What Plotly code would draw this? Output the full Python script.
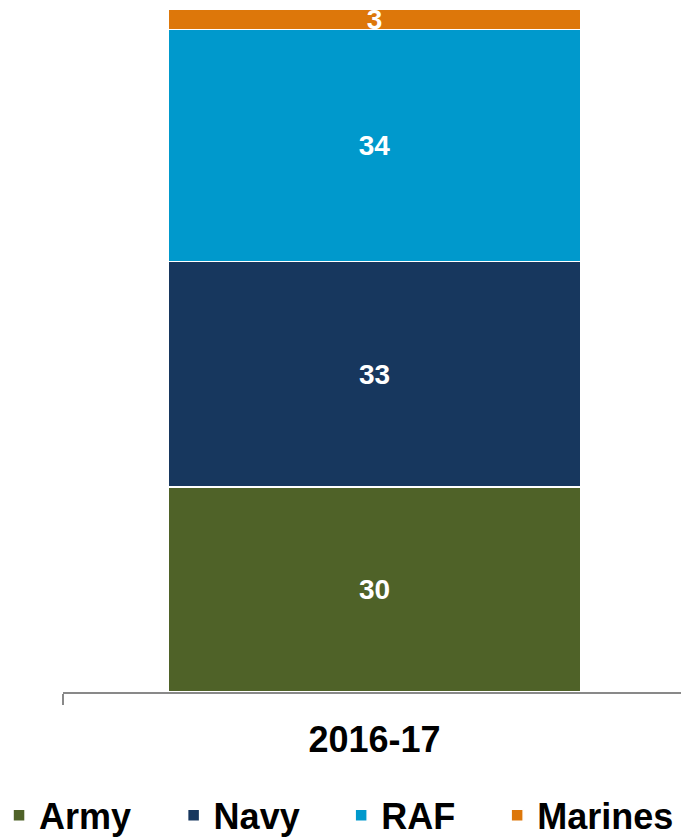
import plotly.graph_objects as go

# Share of personnel by service, 2016-17 (%)
years = ["2016-17"]
services = ["Army", "Navy", "RAF", "Marines"]
army = [30]
navy = [33]
raf = [34]
marines = [3]
colors = ["#4F6228", "#17375E", "#0099CC", "#DD770A"]

series = [army, navy, raf, marines]

FONT = "Liberation Sans, Arial, sans-serif"

# one legend box per service so the entries can be spaced freely along the bottom
legend_ids = ["legend", "legend2", "legend3", "legend4"]
legend_x = [-0.1035, 0.1790, 0.4501, 0.7025]

fig = go.Figure()
for name, vals, col, lid in zip(services, series, colors, legend_ids):
    fig.add_trace(go.Bar(
        name=name,
        x=years,
        y=vals,
        legend=lid,
        marker=dict(color=col, line=dict(color="white", width=1.5)),
        text=[str(v) for v in vals],
        textposition="inside",
        insidetextanchor="middle",
        textangle=0,
        constraintext="none",
        textfont=dict(family=FONT, size=28, color="white", weight="bold"),
        width=0.663,
    ))

legend_common = dict(
    orientation="h",
    xanchor="left",
    y=-0.1805,
    yanchor="middle",
    font=dict(family=FONT, size=36, color="black", weight="bold"),
    itemwidth=30,
    bgcolor="rgba(0,0,0,0)",
)

layout_legends = {lid: dict(x=lx, **legend_common) for lid, lx in zip(legend_ids, legend_x)}

fig.update_layout(
    barmode="stack",
    width=681,
    height=838,
    margin=dict(l=63, r=0, t=9, b=146, autoexpand=False),
    plot_bgcolor="white",
    paper_bgcolor="white",
    uniformtext=dict(minsize=28, mode="show"),
    showlegend=True,
    xaxis=dict(
        type="category",
        range=[-0.5, 0.492],
        showline=True,
        linecolor="#898989",
        linewidth=2,
        ticks="outside",
        tickson="boundaries",
        ticklen=11,
        tickwidth=2,
        tickcolor="#898989",
        ticklabelstandoff=15,
        tickfont=dict(family=FONT, size=36, color="black", weight="bold"),
        showgrid=False,
        zeroline=False,
    ),
    yaxis=dict(
        range=[0, 100],
        visible=False,
        showgrid=False,
        zeroline=False,
    ),
    **layout_legends,
)

fig.write_html("out.html")
